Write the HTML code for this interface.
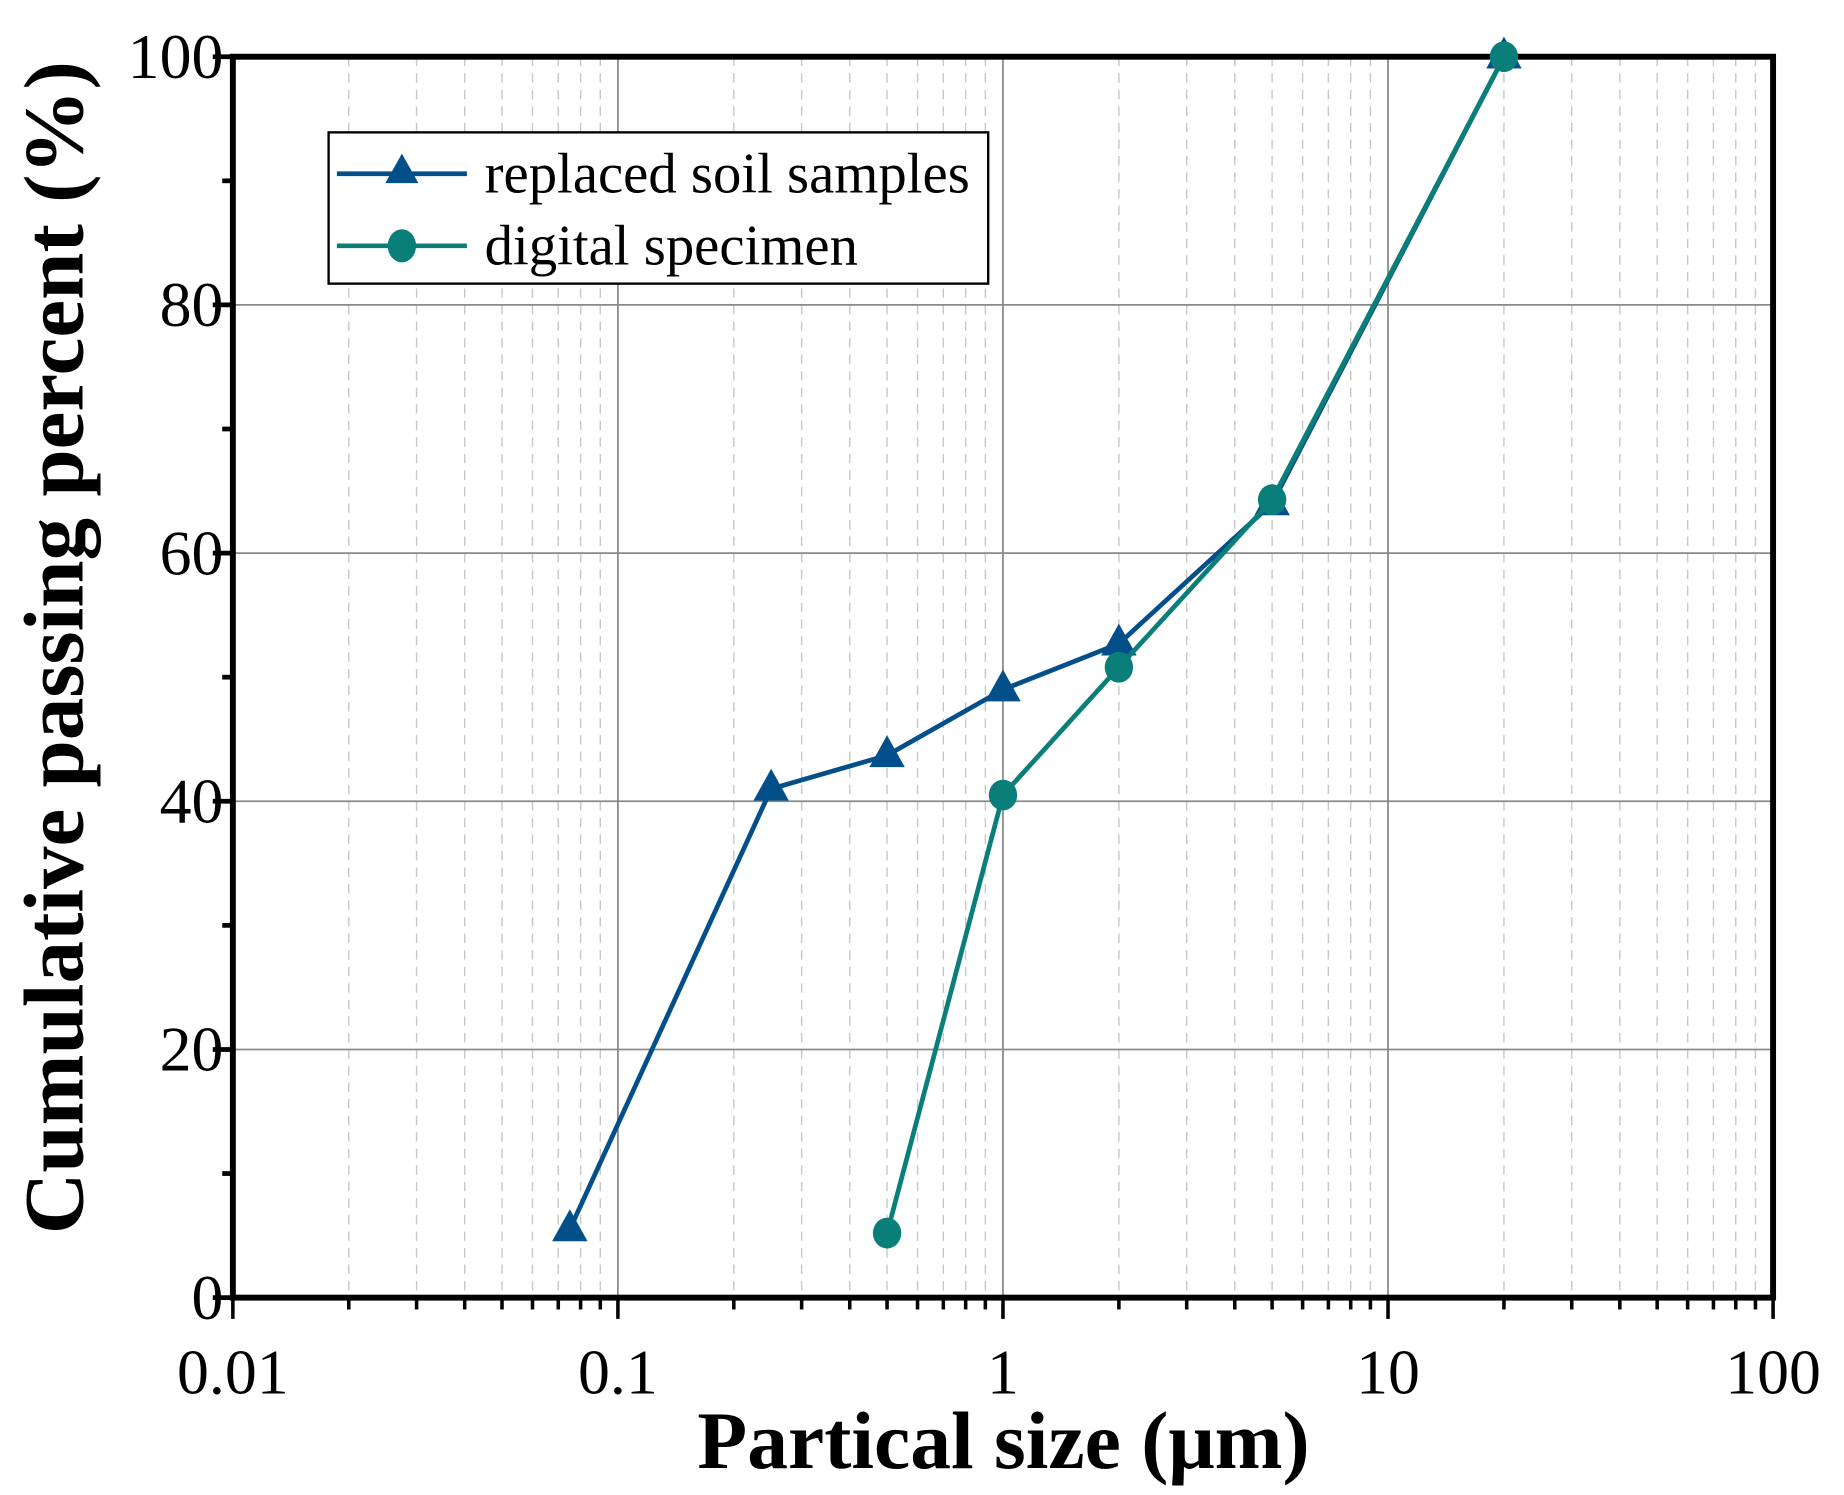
<!DOCTYPE html>
<html><head><meta charset="utf-8"><style>
html,body{margin:0;padding:0;background:#fff}
svg{display:block}
text{font-family:"Liberation Serif",serif}
</style></head><body>
<svg id="chart" width="1844" height="1495" viewBox="0 0 1560 1265" preserveAspectRatio="none" xmlns="http://www.w3.org/2000/svg">
<g id="grid"></g>
<g id="axes"></g>
<g id="series"></g>
<g id="legend">
  <rect x="278" y="112" width="558" height="128" fill="#fff" stroke="#000" stroke-width="2"/>
  <g>
    <line x1="285" y1="147" x2="395" y2="147" stroke="#034f8a" stroke-width="4"/>
    <polygon points="340,130 326,155 354,155" fill="#034f8a"/>
    <text x="410" y="163" font-size="48">replaced soil samples</text>
  </g>
  <g>
    <line x1="285" y1="208" x2="395" y2="208" stroke="#0a7f7a" stroke-width="4"/>
    <ellipse cx="340" cy="208" rx="12" ry="14" fill="#0a7f7a"/>
    <text x="410" y="224" font-size="48">digital specimen</text>
  </g>
</g>
<text x="849" y="1242" font-size="69" font-weight="bold" text-anchor="middle">Partical size (μm)</text>
<text transform="translate(70,548) rotate(-90)" font-size="72" font-weight="bold" text-anchor="middle">Cumulative passing percent (%)</text>
</svg>
<script>
const xTicks=[0.01,0.1,1,10,100];
const xTickLabels=["0.01","0.1","1","10","100"];
const yTicks=[0,20,40,60,80,100];
const yTickLabels=["0","20","40","60","80","100"];
const replacedX=[0.075,0.25,0.5,1,2,5,20];
const replacedY=[5.5,41,43.7,49,52.7,64,100];
const digitalX=[0.5,1,2,5,20];
const digitalY=[5.2,40.5,50.8,64.3,100];
const L=197,R=1500,T=48,B=1098;
const NS="http://www.w3.org/2000/svg";
function xs(v){return L+(Math.log10(v)+2)/4*(R-L);}
function ys(v){return B-v/100*(B-T);}
function mk(tag,attrs,parent){const e=document.createElementNS(NS,tag);for(const k in attrs)e.setAttribute(k,attrs[k]);parent.appendChild(e);return e;}
const grid=document.getElementById('grid'),axes=document.getElementById('axes'),ser=document.getElementById('series');
for(let d=-2;d<2;d++){for(let m=2;m<10;m++){const x=xs(m*Math.pow(10,d));
 const g=mk('line',{x1:x,x2:x,y1:T,y2:B,stroke:'#c8c8c8','stroke-width':1.2,'stroke-dasharray':'8,6'},grid);
 
 
 const t=mk('line',{x1:x,x2:x,y1:B,y2:B+10,stroke:'#000','stroke-width':3},axes);
 
 }}
xTicks.forEach((v,i)=>{const x=xs(v);
 const g=mk('line',{x1:x,x2:x,y1:T,y2:B,stroke:'#8a8a8a','stroke-width':1.5},grid);
 
 
 const t=mk('line',{x1:x,x2:x,y1:B,y2:B+18,stroke:'#000','stroke-width':3},axes);
 
 
 const tx=mk('text',{x:x,y:B+81,'font-size':54,'text-anchor':'middle'},axes);tx.textContent=xTickLabels[i];
 
 });
yTicks.forEach((v,i)=>{const y=ys(v);
 const g=mk('line',{x1:L,x2:R,y1:y,y2:y,stroke:'#8a8a8a','stroke-width':1.5},grid);
 
 
 const t=mk('line',{x1:L-17,x2:L,y1:y,y2:y,stroke:'#000','stroke-width':4},axes);
 
 
 const tx=mk('text',{x:L-8,y:y+18,'font-size':54,'text-anchor':'end'},axes);tx.textContent=yTickLabels[i];
 
 
 if(i<yTicks.length-1){const ym=ys(v+10);
  const m=mk('line',{x1:L-9,x2:L,y1:ym,y2:ym,stroke:'#000','stroke-width':4},axes);
  
  }});
const frame=mk('rect',{x:L,y:T,width:R-L,height:B-T,fill:'none',stroke:'#000','stroke-width':5},axes);


function drawSeries(X,Y,color,shape,name){
 const pts=X.map((v,i)=>xs(v)+','+ys(Y[i])).join(' ');
 const pl=mk('polyline',{points:pts,fill:'none',stroke:color,'stroke-width':4},ser);
 
 
 X.forEach((v,i)=>{const x=xs(v),y=ys(Y[i]);let m;
  if(shape==='tri')m=mk('polygon',{points:`${x},${y-17} ${x-15},${y+10} ${x+15},${y+10}`,fill:color},ser);
  else m=mk('ellipse',{cx:x,cy:y,rx:12,ry:13,fill:color},ser);
  
  });}
drawSeries(replacedX,replacedY,'#034f8a','tri','replaced');
drawSeries(digitalX,digitalY,'#0a7f7a','circ','digital');
</script>
</body></html>
